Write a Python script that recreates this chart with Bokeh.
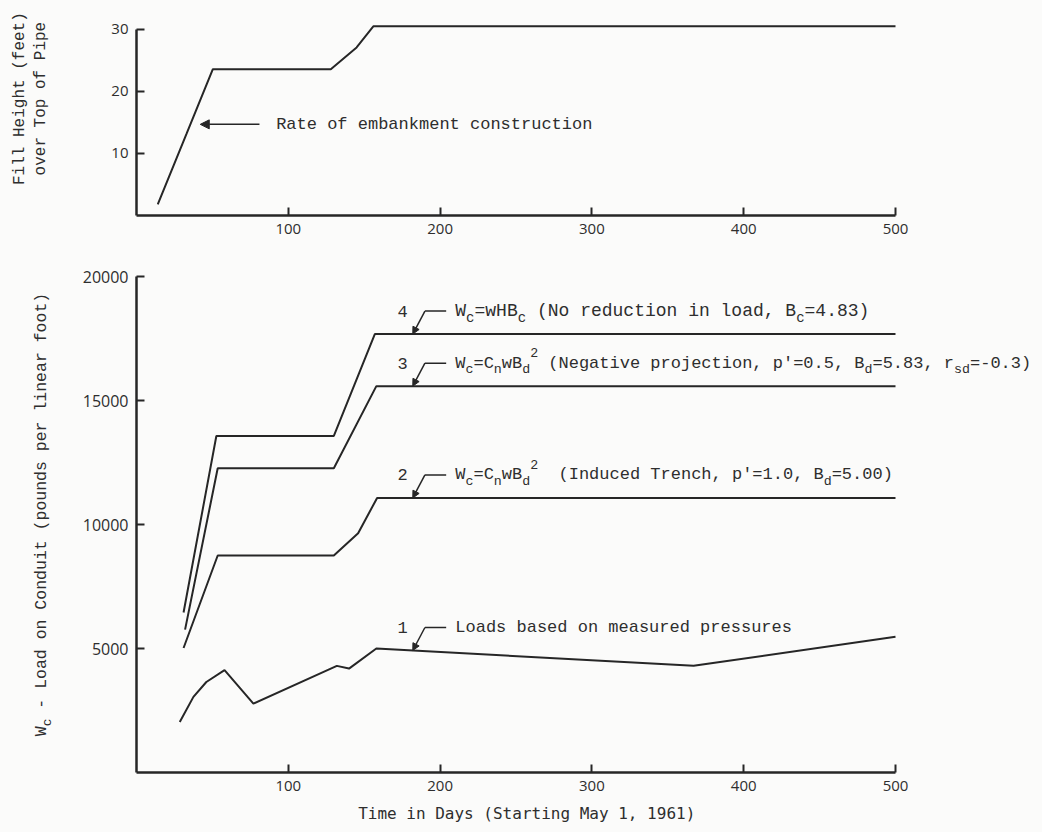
import numpy as np
from bokeh.plotting import figure
from bokeh.layouts import column, row
from bokeh.models import Label, Arrow, NormalHead, FixedTicker
from bokeh.embed import file_html
from bokeh.resources import INLINE

# ---------------- data ----------------
fill_days = [14, 33, 50.3, 128, 145, 156, 500]
fill_height = [1.8, 13.2, 23.6, 23.6, 27.1, 30.5, 30.5]

load4_days = [31, 52.6, 130, 157, 500]
load4 = [6450, 13570, 13570, 17680, 17680]
load3_days = [32, 53.5, 130, 158, 500]
load3 = [5760, 12270, 12270, 15580, 15580]
load2_days = [31, 53.5, 130, 146, 158.5, 500]
load2 = [5020, 8750, 8750, 9650, 11070, 11070]
load1_days = [28.5, 37.5, 46, 58, 77, 132, 140, 158, 367, 500]
load1 = [2040, 3050, 3650, 4125, 2780, 4300, 4190, 5000, 4300, 5470]

x_ticks = [100, 200, 300, 400, 500]
top_y_ticks = [10, 20, 30]
bot_y_ticks = [5000, 10000, 15000, 20000]

# ---------------- style ----------------
BG = "#fbfbfa"
INK = "#262626"
TXT = "#2e2e2e"
MONO = "Liberation Mono"
TICKF = "Open Sans"
NB = "\u00a0"

KX = 759 / 500.0              # px per day
X_END = 500 + 137 / KX        # frame extends right so that texts fit
FRAME_W = int(round(X_END * KX))
TOP_FH = 205
TOP_YEND = 33.06
BOT_FH = 510
BOT_YEND = 20565
KY_TOP = TOP_FH / TOP_YEND
KY_BOT = BOT_FH / BOT_YEND


def style(p):
    p.background_fill_color = BG
    p.border_fill_color = BG
    p.outline_line_color = None
    p.xgrid.visible = False
    p.ygrid.visible = False
    for ax in (p.xaxis[0], p.yaxis[0]):
        ax.axis_line_width = 2.5
        ax.axis_line_color = INK
        ax.major_tick_line_color = INK
        ax.major_tick_line_width = 2
        ax.major_tick_in = 8
        ax.major_tick_out = 0
        ax.minor_tick_line_color = None
        ax.major_label_text_font = TICKF
        ax.major_label_text_color = TXT
        ax.major_label_standoff = 8
    p.xaxis[0].ticker = FixedTicker(ticks=x_ticks)
    p.xaxis[0].bounds = (0, 500)
    p.xaxis[0].major_label_text_font_size = "15px"


def seg_len(segs, fs):
    tot = 0.0
    for t, kind in segs:
        f = fs if kind == "n" else fs * 0.78
        tot += len(t) * 0.6 * f
    return tot


def rich(p, x, y, segs, fs, kx, ky, font=MONO, angle=0.0):
    """Place a run of text segments (normal / sub / sup) starting at data (x, y)."""
    cur = 0.0
    for t, kind in segs:
        if kind == "n":
            f, d = fs, 0.0
        elif kind == "sub":
            f, d = fs * 0.78, -0.38 * fs
        else:
            f, d = fs * 0.78, 0.62 * fs
        if angle == 0.0:
            lx, ly = x + cur / kx, y + d / ky
        else:
            lx, ly = x - d / kx, y + cur / ky
        p.add_layout(Label(x=lx, y=ly, text=t.replace(" ", NB), text_font=font,
                           text_font_size=f"{f:.1f}px", text_color=TXT,
                           text_align="left", text_baseline="middle",
                           angle=angle))
        cur += len(t) * 0.6 * f


# ---------------- top chart ----------------
top = figure(frame_width=FRAME_W, frame_height=TOP_FH,
             x_range=(0, X_END), y_range=(0, TOP_YEND),
             min_border_left=136, min_border_right=10,
             min_border_top=10, min_border_bottom=35,
             output_backend="svg", toolbar_location=None)
style(top)
top.yaxis[0].ticker = FixedTicker(ticks=top_y_ticks)
top.yaxis[0].bounds = (0, 30)
top.yaxis[0].major_label_text_font_size = "15px"
top.yaxis[0].axis_label = NB * 3 + "Fill Height (feet)\n" + NB * 3 + "over Top of Pipe"
top.yaxis[0].axis_label_text_font = MONO
top.yaxis[0].axis_label_text_font_size = "16px"
top.yaxis[0].axis_label_text_font_style = "normal"
top.yaxis[0].axis_label_text_color = TXT
top.yaxis[0].axis_label_standoff = 58

top.line(fill_days, fill_height, line_color=INK, line_width=2)

arrow_y = 14.7
top.add_layout(Arrow(end=NormalHead(size=9, fill_color=INK, line_color=INK),
                     x_start=81, y_start=arrow_y, x_end=42, y_end=arrow_y,
                     line_color=INK, line_width=1.5))
rich(top, 92, arrow_y, [("Rate of embankment construction", "n")], 17, KX, KY_TOP)

# ---------------- bottom chart ----------------
LAB_W = 70
lab = figure(frame_width=LAB_W, frame_height=BOT_FH,
             x_range=(0, LAB_W), y_range=(0, BOT_YEND),
             min_border_left=0, min_border_right=0,
             min_border_top=12, min_border_bottom=60,
             x_axis_type=None, y_axis_type=None,
             output_backend="svg", toolbar_location=None)
lab.background_fill_color = BG
lab.border_fill_color = BG
lab.outline_line_color = None
lab.xgrid.visible = False
lab.ygrid.visible = False

ylab_segs = [("W", "n"), ("c", "sub"), (" - Load on Conduit (pounds per linear foot)", "n")]
ylab_center = 10000 + 10 / KY_BOT
ylab_start = ylab_center - seg_len(ylab_segs, 16.5) / 2 / KY_BOT
rich(lab, 41, ylab_start, ylab_segs, 16.5, 1.0, KY_BOT, angle=np.pi / 2)

bot = figure(frame_width=FRAME_W, frame_height=BOT_FH,
             x_range=(0, X_END), y_range=(0, BOT_YEND),
             min_border_left=136 - LAB_W, min_border_right=10,
             min_border_top=12, min_border_bottom=60,
             output_backend="svg", toolbar_location=None)
style(bot)
bot.yaxis[0].ticker = FixedTicker(ticks=bot_y_ticks)
bot.yaxis[0].bounds = (0, 20000)
bot.yaxis[0].major_label_text_font_size = "16px"
# trailing no-break spaces shift the centred label left, under the 0..500 axis
bot.xaxis[0].axis_label = "Time in Days (Starting May 1, 1961)" + NB * 12
bot.xaxis[0].axis_label_text_font = "DejaVu Sans Mono"
bot.xaxis[0].axis_label_text_font_size = "16px"
bot.xaxis[0].axis_label_text_font_style = "normal"
bot.xaxis[0].axis_label_text_color = TXT
bot.xaxis[0].axis_label_standoff = 10

for d, v in ((load4_days, load4), (load3_days, load3),
             (load2_days, load2), (load1_days, load1)):
    bot.line(d, v, line_color=INK, line_width=2)

# curve annotations
TIP_DAY = 182
BEND_DAY = 190
HEND_DAY = 204
NUM_DAY = 172
TXT_DAY = 210
RISE = 23 / KY_BOT

annots = [
    ("4", load4_days, load4,
     [("W", "n"), ("c", "sub"), ("=wHB", "n"), ("c", "sub"),
      (" (No reduction in load, B", "n"), ("c", "sub"), ("=4.83)", "n")], 18),
    ("3", load3_days, load3,
     [("W", "n"), ("c", "sub"), ("=C", "n"), ("n", "sub"), ("wB", "n"), ("d", "sub"),
      ("2", "sup"), (" (Negative projection, p'=0.5, B", "n"), ("d", "sub"),
      ("=5.83, r", "n"), ("sd", "sub"), ("=-0.3)", "n")], 17),
    ("2", load2_days, load2,
     [("W", "n"), ("c", "sub"), ("=C", "n"), ("n", "sub"), ("wB", "n"), ("d", "sub"),
      ("2", "sup"), ("  (Induced Trench, p'=1.0, B", "n"), ("d", "sub"),
      ("=5.00)", "n")], 17),
    ("1", load1_days, load1, [("Loads based on measured pressures", "n")], 17),
]

for num, dd, vv, segs, fs in annots:
    tip = float(np.interp(TIP_DAY, dd, vv))
    ty = tip + RISE
    bot.line([HEND_DAY, BEND_DAY], [ty, ty], line_color=INK, line_width=1.5)
    bot.add_layout(Arrow(end=NormalHead(size=7, fill_color=INK, line_color=INK),
                         x_start=BEND_DAY, y_start=ty, x_end=TIP_DAY, y_end=tip,
                         line_color=INK, line_width=1.5))
    rich(bot, NUM_DAY, ty, [(num, "n")], 17, KX, KY_BOT)
    rich(bot, TXT_DAY, ty, segs, fs, KX, KY_BOT)

layout = column(top, row(lab, bot, spacing=0), spacing=0, background=BG)
html = file_html(layout, INLINE)
html = html.replace("<body>", f'<body style="margin:0;background:{BG}">')
open("out.html", "w").write(html)
